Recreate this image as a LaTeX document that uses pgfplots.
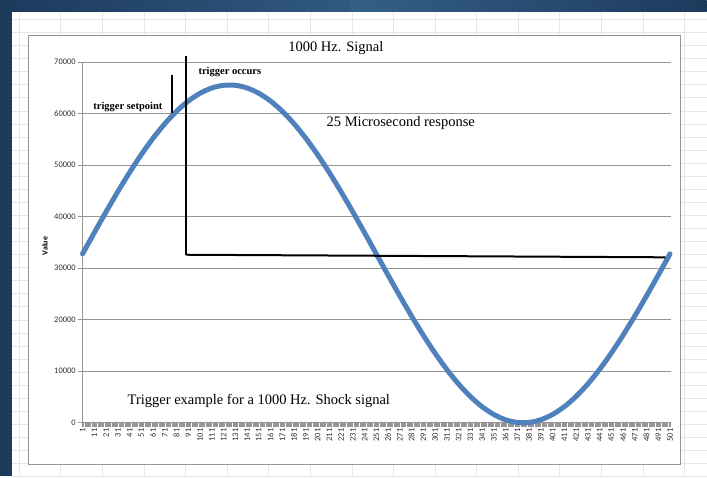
\documentclass[border=0pt]{standalone}
\usepackage{pgfplots}
\pgfplotsset{compat=1.18}
\usepackage{fontspec}
\setmainfont{Liberation Serif}
\newfontfamily\carlito{Carlito}
\definecolor{exblue}{RGB}{79,129,189}
\definecolor{bgdark}{RGB}{28,58,92}
\definecolor{bglight}{RGB}{70,120,165}
\definecolor{cellgrid}{RGB}{230,230,230}
\definecolor{axgray}{RGB}{150,150,150}
\definecolor{lblgray}{RGB}{50,50,50}
\begin{document}
\begin{tikzpicture}[x=1pt,y=1pt]
% screenshot background
\shade[left color=bgdark, right color=bglight] (0,0) rectangle (707,476);
\shade[left color=bglight!60!bgdark, right color=bgdark] (350,464) rectangle (707,476);
\fill[white] (12,0) rectangle (707,464);
\foreach \k in {0,...,16} {\draw[cellgrid, line width=0.8pt] ({19.3+41.6*\k},0) -- ({19.3+41.6*\k},464);}
\foreach \k in {-24,...,11} {\draw[cellgrid, line width=0.8pt] (12,{476-163.3+13.07*\k}) -- (707,{476-163.3+13.07*\k});}
% chart area
\fill[white] (28,11) rectangle (681,441);
\draw[axgray, line width=0.8pt] (28,11) rectangle (681,441);
\begin{axis}[
  at={(82pt,53pt)}, anchor=south west,
  width=589pt, height=361pt, scale only axis,
  xmin=0.5, xmax=501.5, ymin=0, ymax=70000,
  clip=false,
  axis lines=left,
  axis line style={-, color=axgray, line width=0.8pt},
  tick style={color=axgray, line width=0.6pt},
  tick align=outside,
  major tick length=4pt, minor tick length=4pt,
  xtick={1,11,...,501},
  minor x tick num=9,
  ytick={0,10000,...,70000},
  ymajorgrids,
  grid style={color=axgray, line width=0.7pt},
  scaled y ticks=false,
  /pgf/number format/.cd, 1000 sep={}, assume math mode=true,
  /pgfplots/.cd,
  xticklabel style={rotate=90, anchor=east, font=\carlito\fontsize{8.5}{9}\selectfont, text=lblgray, inner sep=1.5pt},
  yticklabel style={font=\carlito\fontsize{8.5}{9}\selectfont, text=lblgray, inner sep=2pt},
  ylabel={\carlito\bfseries\fontsize{8}{9}\selectfont Value},
  ylabel style={at={(axis description cs:-0.063,0.49)}, anchor=center, rotate=0},
]
\addplot[exblue, line width=5pt, smooth, line cap=round] coordinates {
(1,32768)(11,36875)(21,40917)(31,44830)(41,48553)(51,52028)(61,55198)(71,58015)(81,60434)(91,62417)
(101,63931)(111,64955)(121,65470)(131,65470)(141,64955)(151,63931)(161,62417)(171,60434)(181,58015)(191,55198)
(201,52028)(211,48553)(221,44830)(231,40917)(241,36875)(251,32768)(261,28661)(271,24619)(281,20706)(291,16983)
(301,13508)(311,10338)(321,7521)(331,5102)(341,3119)(351,1605)(361,581)(371,66)(381,66)(391,581)
(401,1605)(411,3119)(421,5102)(431,7521)(441,10338)(451,13508)(461,16983)(471,20706)(481,24619)(491,28661)(501,32768)};
\addplot[black, line width=2pt] coordinates {(77,60100)(77,67500)};
\addplot[black, line width=2pt] coordinates {(89,71200)(89,32600)};
\addplot[black, line width=2pt] coordinates {(89,32600)(497,32100)};
\end{axis}
% annotations
\node[font=\fontsize{14.5}{16}\selectfont] at (336,428) {1000 Hz. Signal};
\node[font=\fontsize{14.5}{16}\selectfont] at (401,353) {25 Microsecond response};
\node[font=\fontsize{14.5}{16}\selectfont] at (259,75) {Trigger example for a 1000 Hz. Shock signal};
\node[font=\bfseries\fontsize{10.5}{12}\selectfont] at (128,369) {trigger setpoint};
\node[font=\bfseries\fontsize{10.5}{12}\selectfont] at (230,404) {trigger occurs};
\end{tikzpicture}
\end{document}
